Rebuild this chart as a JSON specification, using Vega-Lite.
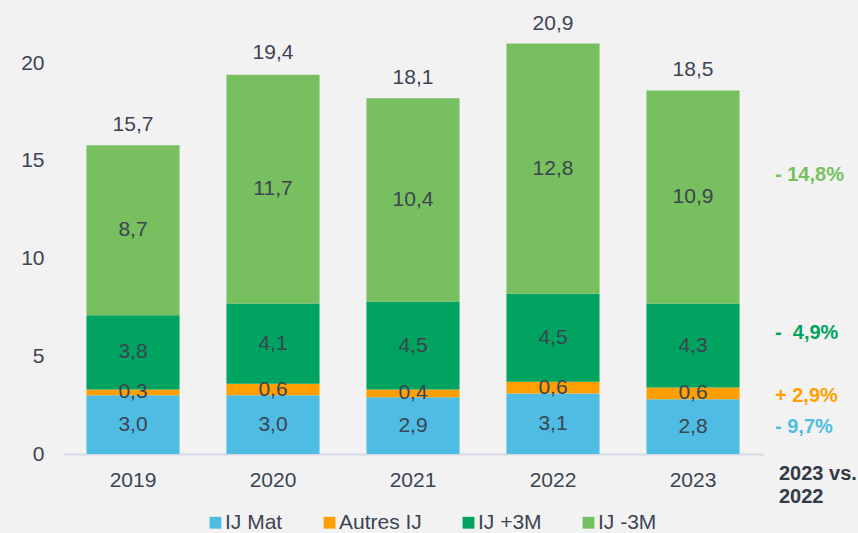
{
  "$schema": "https://vega.github.io/schema/vega-lite/v6.json",
  "width": 700,
  "height": 430,
  "autosize": {"type": "none"},
  "padding": {"left": 63, "top": 24, "right": 95, "bottom": 79},
  "background": "#f2f2f2",
  "config": {
    "view": {"stroke": null},
    "font": "Liberation Sans",
    "locale": {"number": {"decimal": ",", "thousands": " ", "grouping": [3], "currency": ["", " €"]}}
  },
  "datasets": {
    "segments": [
      {"year": "2019", "series": "IJ Mat", "value": 3.0, "order": 1},
      {"year": "2019", "series": "Autres IJ", "value": 0.3, "order": 2},
      {"year": "2019", "series": "IJ +3M", "value": 3.8, "order": 3},
      {"year": "2019", "series": "IJ -3M", "value": 8.7, "order": 4},
      {"year": "2020", "series": "IJ Mat", "value": 3.0, "order": 1},
      {"year": "2020", "series": "Autres IJ", "value": 0.6, "order": 2},
      {"year": "2020", "series": "IJ +3M", "value": 4.1, "order": 3},
      {"year": "2020", "series": "IJ -3M", "value": 11.7, "order": 4},
      {"year": "2021", "series": "IJ Mat", "value": 2.9, "order": 1},
      {"year": "2021", "series": "Autres IJ", "value": 0.4, "order": 2},
      {"year": "2021", "series": "IJ +3M", "value": 4.5, "order": 3},
      {"year": "2021", "series": "IJ -3M", "value": 10.4, "order": 4},
      {"year": "2022", "series": "IJ Mat", "value": 3.1, "order": 1},
      {"year": "2022", "series": "Autres IJ", "value": 0.6, "order": 2},
      {"year": "2022", "series": "IJ +3M", "value": 4.5, "order": 3},
      {"year": "2022", "series": "IJ -3M", "value": 12.8, "order": 4},
      {"year": "2023", "series": "IJ Mat", "value": 2.8, "order": 1},
      {"year": "2023", "series": "Autres IJ", "value": 0.6, "order": 2},
      {"year": "2023", "series": "IJ +3M", "value": 4.3, "order": 3},
      {"year": "2023", "series": "IJ -3M", "value": 10.9, "order": 4}
    ],
    "totals": [
      {"year": "2019", "total": 15.7},
      {"year": "2020", "total": 19.4},
      {"year": "2021", "total": 18.1},
      {"year": "2022", "total": 20.9},
      {"year": "2023", "total": 18.5}
    ],
    "notes": [
      {"series": "IJ -3M", "text": "- 14,8%", "at": 14.27},
      {"series": "IJ +3M", "text": "-\u00a0 4,9%", "at": 6.19},
      {"series": "Autres IJ", "text": "+ 2,9%", "at": 2.97},
      {"series": "IJ Mat", "text": "- 9,7%", "at": 1.38}
    ],
    "caption": [
      {"label": "2023 vs.\n2022", "at": -0.5}
    ]
  },
  "layer": [
    {
      "data": {"name": "segments"},
      "mark": {"type": "bar"},
      "encoding": {
        "x": {
          "field": "year", "type": "nominal",
          "scale": {"paddingInner": 0.335, "paddingOuter": 0.1675},
          "axis": {"title": null, "labelAngle": 0, "ticks": false, "labelFontSize": 21, "labelColor": "#3c4452", "labelPadding": 15, "domainColor": "#d6dce4", "domainWidth": 2}
        },
        "y": {
          "field": "value", "type": "quantitative", "stack": "zero",
          "scale": {"domain": [0, 22], "nice": false},
          "axis": {"title": null, "values": [0, 5, 10, 15, 20], "grid": false, "domain": false, "ticks": false, "labelFontSize": 21, "labelColor": "#3c4452", "labelPadding": 19}
        },
        "color": {
          "field": "series", "type": "nominal",
          "scale": {"domain": ["IJ Mat", "Autres IJ", "IJ +3M", "IJ -3M"], "range": ["#4fbde3", "#ffa000", "#00a35f", "#77bf5f"]},
          "legend": {"title": null, "orient": "none", "direction": "horizontal", "legendX": 142, "legendY": 488, "symbolType": "square", "symbolSize": 140, "symbolStrokeWidth": 0, "labelFontSize": 21, "labelColor": "#3c4452", "labelOffset": -1, "columnPadding": 36}
        },
        "order": {"field": "order", "type": "quantitative"}
      }
    },
    {
      "data": {"name": "segments"},
      "transform": [
        {"stack": "value", "groupby": ["year"], "sort": [{"field": "order"}], "as": ["y0", "y1"]},
        {"fold": ["y0", "y1"], "as": ["k", "v"]},
        {"aggregate": [{"op": "mean", "field": "v", "as": "mid"}], "groupby": ["year", "series", "value"]}
      ],
      "mark": {"type": "text", "fontSize": 21, "color": "#3c4452", "baseline": "middle"},
      "encoding": {
        "x": {"field": "year", "type": "nominal"},
        "y": {"field": "mid", "type": "quantitative"},
        "text": {"field": "value", "type": "quantitative", "format": ".1f"}
      }
    },
    {
      "data": {"name": "totals"},
      "mark": {"type": "text", "fontSize": 21, "color": "#3c4452", "baseline": "alphabetic", "dy": -16},
      "encoding": {
        "x": {"field": "year", "type": "nominal"},
        "y": {"field": "total", "type": "quantitative"},
        "text": {"field": "total", "type": "quantitative", "format": ".1f"}
      }
    },
    {
      "data": {"name": "notes"},
      "mark": {"type": "text", "fontSize": 20, "fontWeight": "bold", "align": "left", "baseline": "middle", "dx": 82},
      "encoding": {
        "x": {"datum": "2023", "type": "nominal"},
        "y": {"field": "at", "type": "quantitative"},
        "color": {"field": "series", "type": "nominal"},
        "text": {"field": "text"}
      }
    },
    {
      "data": {"name": "caption"},
      "mark": {"type": "text", "fontSize": 20, "fontWeight": "bold", "align": "left", "baseline": "top", "dx": 86, "lineBreak": "\n", "lineHeight": 23, "color": "#333a45"},
      "encoding": {
        "x": {"datum": "2023", "type": "nominal"},
        "y": {"field": "at", "type": "quantitative"},
        "text": {"field": "label"}
      }
    }
  ]
}
